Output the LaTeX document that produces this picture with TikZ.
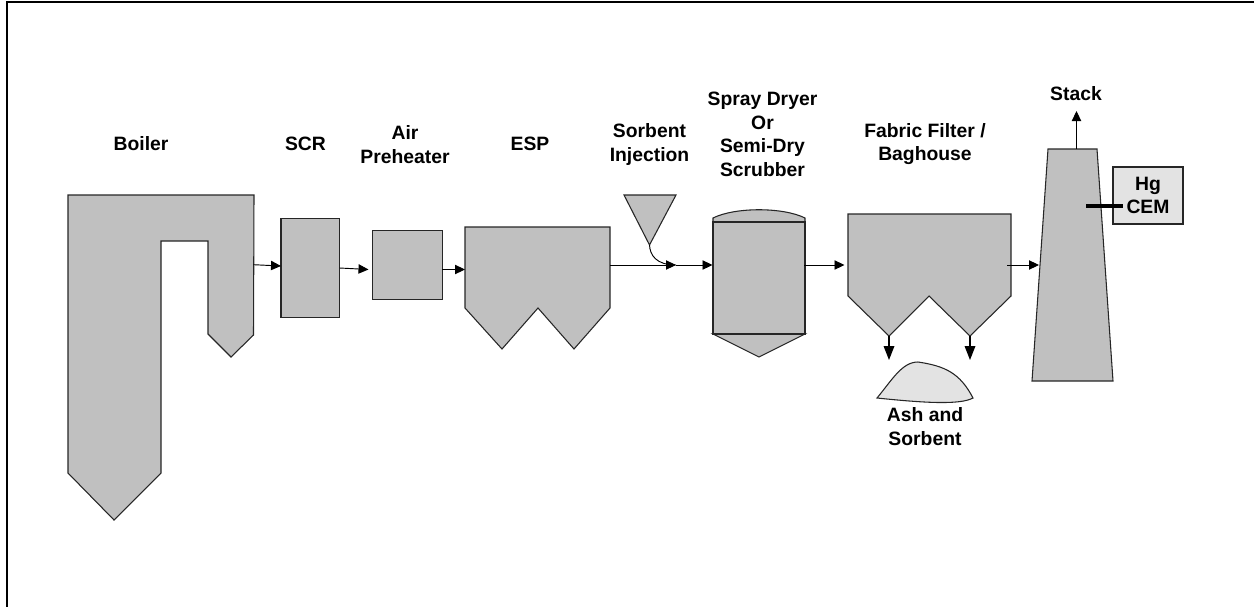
\documentclass[tikz,border=0pt]{standalone}
\usepackage{fontspec}
\setmainfont{Liberation Sans}
\usepackage{tikz}
\usetikzlibrary{arrows.meta,positioning,calc}
\usepackage{xcolor}
\definecolor{unitgray}{RGB}{192,192,192}
\definecolor{palegray}{RGB}{227,227,227}
\tikzset{
  unit/.style={draw=black!85,fill=unitgray,line width=0.8pt,line join=miter},
  pale/.style={draw=black!85,fill=palegray,line width=0.8pt},
  flow/.style={-{Triangle[length=7.5pt,width=7pt]},line width=0.7pt},
  drop/.style={-{Triangle[length=10.5pt,width=8pt]},line width=0.9pt},
  lbl/.style={font=\fontsize{14.5}{17.6}\selectfont\bfseries,align=center,inner sep=0pt},
  boxunit/.style={unit,rectangle,inner sep=0pt,outer sep=0pt},
}
\begin{document}
\begin{tikzpicture}[x=0.75pt,y=-0.75pt]
    \useasboundingbox (0,0) rectangle (1254,607);
    % Frame
    \draw[line width=1.6pt] (7,607) -- (7,2) -- (1254,2);

    % Boiler
    \draw[unit] (68,195) -- (254,195) -- (253.5,335) -- (231,357) -- (208,334) -- (208,241) -- (161,241)
        -- (161,473) -- (114,520) -- (68,473) -- cycle;
    \coordinate (boilerout) at (253.5,264.7);

    % Boxes
    \node[boxunit,minimum width=44pt,minimum height=74pt] (scr) at (310.3,267.7) {};
    \node[boxunit,minimum width=52.5pt,minimum height=52pt] (preheater) at (407.3,264.7) {};

    % ESP
    \draw[unit] (465,227) -- (610,227) -- (610,308) -- (574,349) -- (538,308) -- (502,349) -- (465,308) -- cycle;
    \coordinate (espin) at (465,269.5);
    \coordinate (espout) at (610,265);

    % Sorbent hopper
    \draw[unit] (624,195) -- (676,195) -- (649.5,245) -- cycle;
    \coordinate (hoppertip) at (649.5,245);
    \coordinate (mixpoint) at (676,265);

    % Spray dryer
    \draw[unit] (713,334) -- (759,357) -- (805,334) -- cycle;
    \draw[unit] (713,222) -- (713,218) .. controls (735,207) and (783,207) .. (805,218) -- (805,222) -- cycle;
    \draw[unit] (713,222) rectangle (805,334);
    \coordinate (dryerin) at (712.5,265);
    \coordinate (dryerout) at (804,265);

    % Fabric filter
    \draw[unit] (848,214) -- (1011,214) -- (1011,296) -- (970,336) -- (929,296) -- (889,336) -- (848,296) -- cycle;
    \coordinate (filterin) at (844.5,265);
    \coordinate (filterout) at (1007,265);
    \coordinate (hopperA) at (889,336);
    \coordinate (hopperB) at (970,336);
    \coordinate (dropA) at (889,360);
    \coordinate (dropB) at (970,360);

    % Ash pile
    \draw[pale] (877,398) .. controls (892,380) and (902,362) .. (918,362)
        .. controls (945,366) and (960,373) .. (973,398)
        .. controls (960,405) and (925,403) .. cycle;

    % Stack
    \draw[unit] (1032,381) -- (1048,149) -- (1097,149) -- (1113,381) -- cycle;
    \coordinate (stackin) at (1039,265);
    \coordinate (stacktop) at (1076.5,149);
    \coordinate (stackend) at (1076.5,111);
    \coordinate (probe) at (1086,206);

    % CEM
    \node[pale,rectangle,inner sep=0pt,minimum width=52.5pt,minimum height=42.75pt,lbl] (cem) at (1148,195.5) {Hg\\CEM};
    \coordinate (cemend) at (1123,206);

    % Flow
    \draw[flow] (boilerout) -- (scr.west |- 0,266);
    \draw[flow] (scr.east |- 0,268) -- (368.5,269.5);
    \draw[flow] (preheater.east |- espin) -- (espin);
    \draw[flow] (espout) -- (mixpoint);
    \draw[flow] (mixpoint) -- (dryerin);
    \draw[line width=0.7pt] (hoppertip) .. controls (650,255) and (656,265) .. (mixpoint);
    \draw[flow] (dryerout) -- (filterin);
    \draw[flow] (filterout) -- (stackin);
    \draw[drop] (hopperA) -- (dropA);
    \draw[drop] (hopperB) -- (dropB);
    \draw[flow] (stacktop) -- (stackend);
    \draw[line width=3pt] (probe) -- (cemend);

    % Labels
    \node[lbl] (boilerlbl) at (141,144) {Boiler};
    \node[lbl] (scrlbl) at (305.5,144) {SCR};
    \node[lbl] (airlbl) at (405,144.5) {Air\\Preheater};
    \node[lbl] (esplbl) at (530,144) {ESP};
    \node[lbl] (sorbentlbl) at (649.5,144.5) {Sorbent\\Injection};
    \node[lbl] (dryerlbl) at (762.5,134.5) {Spray Dryer\\Or\\Semi-Dry\\Scrubber};
    \node[lbl] (filterlbl) at (925,144) {Fabric Filter /\\Baghouse};
    \node[lbl] (stacklbl) at (1076,94) {Stack};
    \node[lbl] (ashlbl) at (925,426.5) {Ash and\\Sorbent};
\end{tikzpicture}
\end{document}
